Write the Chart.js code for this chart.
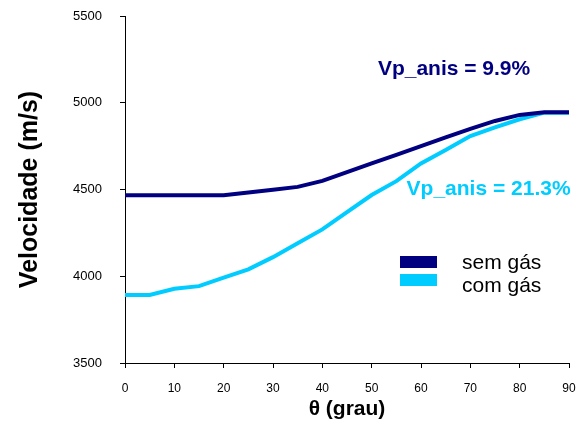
<!DOCTYPE html>
<html>
<head>
<meta charset="utf-8">
<script src="https://cdn.jsdelivr.net/npm/chart.js@4/dist/chart.umd.min.js"></script>
<style>
  html, body { margin: 0; padding: 0; background: #fff; }
  #wrap { width: 582px; height: 432px; }
</style>
</head>
<body>
<div id="wrap"><canvas id="myChart" width="582" height="432"></canvas></div>
<script>
const angulos = [0, 5, 10, 15, 20, 25, 30, 35, 40, 45, 50, 55, 60, 65, 70, 75, 80, 85, 90];
const semGas = [4467, 4467, 4467, 4467, 4467, 4483, 4498, 4515, 4550, 4600, 4650, 4700, 4750, 4800, 4850, 4895, 4930, 4945, 4945];
const comGas = [3892, 3892, 3928, 3943, 3992, 4040, 4110, 4190, 4270, 4370, 4468, 4548, 4650, 4728, 4808, 4858, 4905, 4943, 4943];
const yTicks = [3500, 4000, 4500, 5000, 5500];
const xTicks = [0, 10, 20, 30, 40, 50, 60, 70, 80, 90];

const escuro = '#000080';
const claro = '#00CCFF';
const fonte = "'Liberation Sans', Arial, sans-serif";

const anotacoes = [
  { text: 'Vp_anis = 9.9%', x: 66.7, y: 5195, color: escuro },
  { text: 'Vp_anis = 21.3%', x: 73.7, y: 4503, color: claro }
];

const extras = {
  id: 'extras',
  afterDraw(chart) {
    const ctx = chart.ctx;
    const xs = chart.scales.x, ys = chart.scales.y;
    ctx.save();
    ctx.textBaseline = 'middle';
    ctx.textAlign = 'center';
    ctx.font = 'bold 21px ' + fonte;
    anotacoes.forEach(a => {
      ctx.fillStyle = a.color;
      ctx.fillText(a.text, xs.getPixelForValue(a.x), ys.getPixelForValue(a.y));
    });
    // legenda
    ctx.textAlign = 'left';
    ctx.font = '21px ' + fonte;
    chart.data.datasets.forEach((ds, i) => {
      ctx.fillStyle = ds.borderColor;
      ctx.fillRect(400, 256 + i * 18, 37, 12);
      ctx.fillStyle = '#000';
      ctx.fillText(ds.label, 462, 263 + i * 23);
    });
    ctx.restore();
  }
};

new Chart(document.getElementById('myChart'), {
  type: 'line',
  data: {
    datasets: [
      { label: 'sem gás', data: angulos.map((a, i) => ({ x: a, y: semGas[i] })), borderColor: escuro, backgroundColor: escuro, borderWidth: 4, pointRadius: 0, tension: 0 },
      { label: 'com gás', data: angulos.map((a, i) => ({ x: a, y: comGas[i] })), borderColor: claro, backgroundColor: claro, borderWidth: 4, pointRadius: 0, tension: 0 }
    ]
  },
  options: {
    responsive: false,
    animation: false,
    layout: { padding: { top: 16, right: 13, left: 0, bottom: 0 } },
    plugins: { legend: { display: false }, tooltip: { enabled: false } },
    scales: {
      x: {
        type: 'linear', min: 0, max: 90,
        afterBuildTicks: s => { s.ticks = xTicks.map(v => ({ value: v })); },
        afterFit: s => { s.height = 69; s.paddingLeft = 0; s.paddingRight = 0; },
        grid: { display: true, drawOnChartArea: false, drawTicks: true, tickLength: 5, color: '#000' },
        border: { display: true, color: '#000', width: 1 },
        ticks: { color: '#000', font: { family: fonte, size: 12 }, padding: 13, maxRotation: 0, callback: v => String(v) },
        title: { display: true, text: 'θ (grau)', color: '#000', font: { family: fonte, size: 21, weight: 'bold' }, padding: { top: 0, bottom: 10 } }
      },
      y: {
        min: 3500, max: 5500,
        afterBuildTicks: s => { s.ticks = yTicks.map(v => ({ value: v })); },
        afterFit: s => { s.width = 125; s.paddingTop = 0; s.paddingBottom = 0; },
        grid: { display: true, drawOnChartArea: false, drawTicks: true, tickLength: 5, color: '#000' },
        border: { display: true, color: '#000', width: 1 },
        ticks: { color: '#000', font: { family: fonte, size: 13 }, padding: 18, callback: v => String(v) },
        title: { display: true, text: 'Velocidade (m/s)', color: '#000', font: { family: fonte, size: 25, weight: 'bold' }, padding: { top: 15, bottom: 0 } }
      }
    }
  },
  plugins: [extras]
});
</script>
</body>
</html>
